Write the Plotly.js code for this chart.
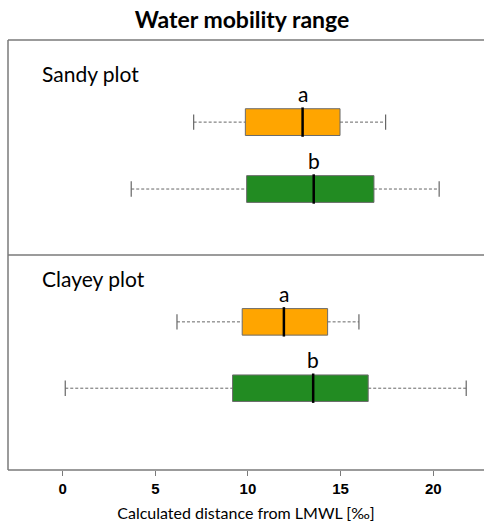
<!DOCTYPE html>
<html><head><meta charset="utf-8">
<script src="https://cdn.plot.ly/plotly-3.0.1.min.js"></script>
<style>html,body{margin:0;padding:0;background:#fff}#chart{width:484px;height:522px}</style>
</head><body><div id="chart"></div>
<script>
// Data (values in per mille)
const panels = ['Sandy plot', 'Clayey plot'];
const groups = ['a', 'b'];
const colors = ['#FFA500', '#228B22'];
// order: [Sandy a, Sandy b, Clayey a, Clayey b]
const lowerWhisker = [7.07, 3.70, 6.17, 0.14];
const q1Values     = [9.86, 9.93, 9.69, 9.17];
const medians      = [12.95, 13.55, 11.94, 13.52];
const q3Values     = [14.97, 16.80, 14.30, 16.49];
const upperWhisker = [17.43, 20.32, 15.99, 21.78];
const tickVals = [0, 5, 10, 15, 20];
const tickText = ['0', '5', '10', '15', '20'];

const yPos = [2, 1]; // orange upper, green lower
const boxW = 0.4;
const traces = [];
const annotations = [];
for (let p = 0; p < 2; p++) {
  const yax = p === 0 ? 'y2' : 'y';
  for (let g = 0; g < 2; g++) {
    const i = p * 2 + g;
    const yv = yPos[g];
    // dashed whiskers
    traces.push({type:'scatter', mode:'lines', xaxis:'x', yaxis:yax,
      x:[lowerWhisker[i], q1Values[i], null, q3Values[i], upperWhisker[i]],
      y:[yv, yv, null, yv, yv],
      line:{color:'#666', width:1, dash:'3px,2px'}, hoverinfo:'skip', showlegend:false});
    // whisker caps
    traces.push({type:'scatter', mode:'markers', xaxis:'x', yaxis:yax,
      x:[lowerWhisker[i], upperWhisker[i]], y:[yv, yv],
      marker:{symbol:'line-ns-open', size:11, color:'#666', line:{color:'#666', width:1.2}},
      hoverinfo:'skip', showlegend:false});
    // box
    traces.push({type:'box', orientation:'h', xaxis:'x', yaxis:yax,
      y:[yv], q1:[q1Values[i]], median:[medians[i]], q3:[q3Values[i]],
      lowerfence:[q1Values[i]], upperfence:[q3Values[i]],
      width:boxW, whiskerwidth:0, fillcolor:colors[g],
      line:{color:'#6b6b6b', width:1}, boxpoints:false, hoverinfo:'skip', showlegend:false});
    // median
    traces.push({type:'scatter', mode:'markers', xaxis:'x', yaxis:yax,
      x:[medians[i]], y:[yv],
      marker:{symbol:'line-ns-open', size:21, color:'#000', line:{color:'#000', width:2.5}},
      hoverinfo:'skip', showlegend:false});
    annotations.push({xref:'x', yref:yax, x:medians[i], y:yv + boxW/2,
      text:groups[g], showarrow:false, yanchor:'bottom', yshift:1,
      font:{family:'Lato, Liberation Sans, sans-serif', size:21, color:'#000'}});
  }
  annotations.push({xref:'paper', yref:'paper', x:0.067, y:p === 0 ? 0.922 : 0.445,
    xanchor:'left', yanchor:'middle', text:panels[p], showarrow:false,
    font:{family:'Lato, Liberation Sans, sans-serif', size:21, color:'#000'}});
}

const frame = '#7a7a7a';
const layout = {
  width:484, height:522,
  margin:{l:8, r:0, t:40, b:52, pad:0},
  paper_bgcolor:'#fff', plot_bgcolor:'#fff',
  title:{text:'<b>Water mobility range</b>', x:0.5, xanchor:'center', y:0.961, yanchor:'middle',
    font:{family:'Lato, Liberation Sans, sans-serif', size:23, color:'#000'}},
  xaxis:{range:[-2.95, 22.74], tickvals:tickVals, ticktext:tickText,
    ticks:'outside', ticklen:5, tickcolor:frame, tickwidth:1,
    showgrid:false, zeroline:false, showline:false,
    tickfont:{family:'Liberation Sans, Arial, sans-serif', size:15, color:'#000', weight:'bold'},
    title:{text:'Calculated distance from LMWL [‰]', standoff:11,
      font:{family:'Lato, Liberation Sans, sans-serif', size:16, color:'#000'}}},
  yaxis:{domain:[0, 0.5], range:[-0.233, 3.008], showgrid:false, zeroline:false,
    showticklabels:false, ticks:'', showline:false},
  yaxis2:{domain:[0.5, 1], range:[0.014, 3.227], showgrid:false, zeroline:false,
    showticklabels:false, ticks:'', showline:false},
  annotations:annotations,
  shapes:[
    {type:'line', xref:'paper', yref:'paper', x0:0, x1:1, y0:0, y1:0, line:{color:frame, width:1.5}},
    {type:'line', xref:'paper', yref:'paper', x0:0, x1:1, y0:0.5, y1:0.5, line:{color:frame, width:1.5}},
    {type:'line', xref:'paper', yref:'paper', x0:0, x1:1, y0:1, y1:1, line:{color:frame, width:1.5}},
    {type:'line', xref:'paper', yref:'paper', x0:0, x1:0, y0:0, y1:1, line:{color:frame, width:1.5}}
  ]
};
Plotly.newPlot('chart', traces, layout, {staticPlot:true, displayModeBar:false});
</script></body></html>
